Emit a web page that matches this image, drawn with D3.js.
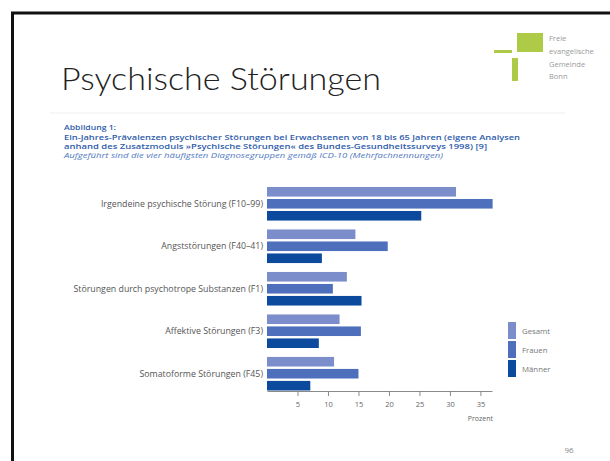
<!DOCTYPE html>
<html>
<head>
<meta charset="utf-8">
<script src="https://cdn.jsdelivr.net/npm/d3@7/dist/d3.min.js"></script>
<style>
  html, body { margin: 0; padding: 0; background: #fff; }
  svg { display: block; font-family: "Open Sans", "Noto Sans", sans-serif; }
</style>
</head>
<body>
<div id="chart"></div>
<script>
// Slide "Psychische Störungen": 12-Monats-Prävalenzen, grouped horizontal bars.
var categories = [
  "Irgendeine psychische Störung (F10–99)",
  "Angststörungen (F40–41)",
  "Störungen durch psychotrope Substanzen (F1)",
  "Affektive Störungen (F3)",
  "Somatoforme Störungen (F45)"
];
var seriesNames = ["Gesamt", "Frauen", "Männer"];
var gesamt = [31.0, 14.5, 13.1, 11.9, 11.0];
var frauen = [37.0, 19.8, 10.8, 15.4, 15.0];
var maenner = [25.3, 9.0, 15.5, 8.5, 7.1];
var tickValues = [5, 10, 15, 20, 25, 30, 35];
var axisLabel = "Prozent";
var colors = ["#7b8ecb", "#4d6fbc", "#0b4a9d"];

var captionLines = [
  "Abbildung 1:",
  "Ein-Jahres-Prävalenzen psychischer Störungen bei Erwachsenen von 18 bis 65 Jahren (eigene Analysen",
  "anhand des Zusatzmoduls »Psychische Störungen« des Bundes-Gesundheitssurveys 1998) [9]",
  "Aufgeführt sind die vier häufigsten Diagnosegruppen gemäß ICD-10 (Mehrfachnennungen)"
];
var logoLines = ["Freie", "evangelische", "Gemeinde", "Bonn"];

(function () {
  var W = 610, H = 461;
  var values = [gesamt, frauen, maenner];
  var rows = categories.map(function (c, i) {
    return { cat: c, vals: seriesNames.map(function (s, si) { return { s: s, si: si, v: values[si][i] }; }) };
  });

  var svg = d3.select("#chart").append("svg").attr("width", W).attr("height", H);

  // slide frame (runs off the right and bottom edge)
  svg.append("rect").attr("x", 12.5).attr("y", 13).attr("width", 700).attr("height", 600)
    .attr("fill", "#fff").attr("stroke", "#111").attr("stroke-width", 3);

  // title
  svg.append("text").attr("x", 61).attr("y", 90)
    .attr("font-family", "Lato, 'Open Sans', sans-serif").attr("font-weight", 300)
    .attr("font-size", "32px").attr("fill", "#222")
    .attr("textLength", 320).attr("lengthAdjust", "spacingAndGlyphs")
    .text("Psychische Störungen");

  // logo
  var lg = svg.append("g").attr("fill", "#aecb48");
  lg.append("rect").attr("x", 517).attr("y", 33).attr("width", 26).attr("height", 19);
  lg.append("rect").attr("x", 494).attr("y", 50).attr("width", 18).attr("height", 3);
  lg.append("rect").attr("x", 512).attr("y", 58).attr("width", 6).attr("height", 23);
  logoLines.forEach(function (t, i) {
    svg.append("text").attr("x", 549).attr("y", 41 + i * 12.8)
      .attr("font-size", "7.5px").attr("fill", "#9a9a9a").text(t);
  });

  // faint rule above the figure
  svg.append("line").attr("x1", 50).attr("x2", 565).attr("y1", 113).attr("y2", 113)
    .attr("stroke", "#eeeeee").attr("stroke-width", 1);

  // caption
  var capY = [130, 139.5, 148.5, 157.5];
  var capW = [52, 456, 423, 379];
  captionLines.forEach(function (t, i) {
    svg.append("text").attr("x", 64).attr("y", capY[i])
      .attr("font-size", "7px")
      .attr("font-weight", i < 3 ? 600 : 400)
      .attr("font-style", i === 3 ? "italic" : "normal")
      .attr("fill", i === 3 ? "#5079c2" : "#2d5cab")
      .attr("textLength", capW[i]).attr("lengthAdjust", "spacingAndGlyphs")
      .text(t);
  });

  // scales
  var x = d3.scaleLinear().domain([0, 36.9]).range([267, 492]);
  var y0 = d3.scaleBand().domain(categories).range([187, 390.5]).paddingInner(0.21);
  var y1 = d3.scaleBand().domain(seriesNames).range([0, y0.bandwidth()]).paddingInner(0.2);

  var groups = svg.append("g").selectAll("g").data(rows).enter().append("g")
    .attr("transform", function (d) { return "translate(0," + y0(d.cat) + ")"; });
  groups.selectAll("rect").data(function (d) { return d.vals; }).enter().append("rect")
    .attr("x", x(0))
    .attr("y", function (d) { return y1(d.s); })
    .attr("width", function (d) { return x(d.v) - x(0); })
    .attr("height", y1.bandwidth())
    .attr("fill", function (d) { return colors[d.si]; });

  // category labels, centred on the middle bar
  svg.append("g").selectAll("text").data(categories).enter().append("text")
    .attr("x", 263)
    .attr("y", function (c) { return y0(c) + y1("Frauen") + y1.bandwidth() / 2; })
    .attr("dy", "0.35em").attr("text-anchor", "end")
    .attr("font-size", "8.8px").attr("fill", "#555")
    .text(function (c) { return c; });

  // x axis
  var xAxis = d3.axisBottom(x).tickValues(tickValues).tickSize(5).tickSizeOuter(0).tickPadding(6);
  var ax = svg.append("g").attr("transform", "translate(0,391)").call(xAxis);
  ax.select(".domain").attr("stroke", "#8a8a8a");
  ax.selectAll(".tick line").attr("stroke", "#8a8a8a");
  ax.selectAll("text").attr("fill", "#666").attr("font-size", "7.5px")
    .attr("font-family", "'Open Sans', sans-serif");
  svg.append("text").attr("x", 493).attr("y", 421).attr("text-anchor", "end")
    .attr("font-size", "7px").attr("fill", "#666").text(axisLabel);

  // legend
  var leg = svg.append("g").selectAll("g").data(seriesNames).enter().append("g")
    .attr("transform", function (d, i) { return "translate(508," + (322 + i * 19) + ")"; });
  leg.append("rect").attr("width", 8).attr("height", 17)
    .attr("fill", function (d, i) { return colors[i]; });
  leg.append("text").attr("x", 14).attr("y", 9).attr("dy", "0.35em")
    .attr("font-size", "7.8px").attr("fill", "#777").text(function (d) { return d; });

  // page number
  svg.append("text").attr("x", 569).attr("y", 450).attr("dy", "0.35em").attr("text-anchor", "middle")
    .attr("font-size", "8px").attr("fill", "#888").text("96");
})();
</script>
</body>
</html>
